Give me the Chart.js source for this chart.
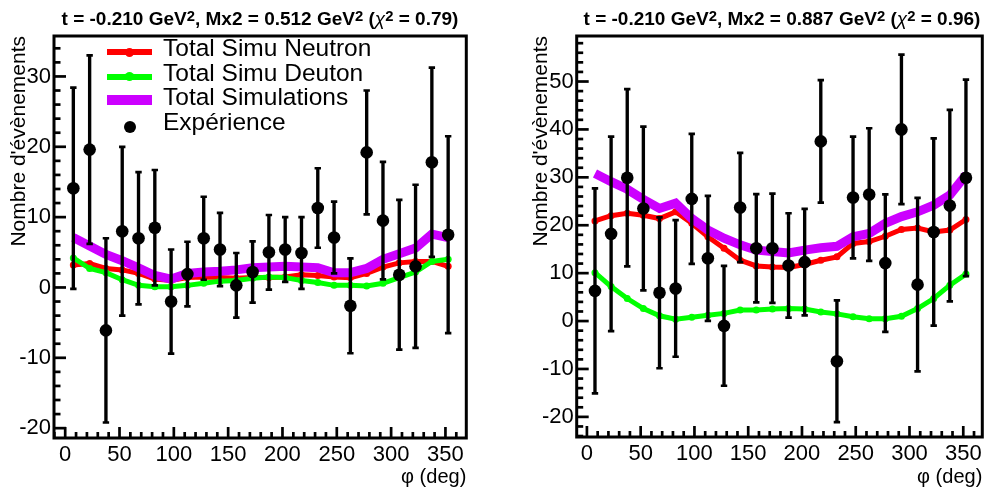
<!DOCTYPE html>
<html>
<head>
<meta charset="utf-8">
<script src="https://cdn.jsdelivr.net/npm/chart.js@4.4.1/dist/chart.umd.min.js"></script>
<style>
  body { margin: 0; background: #fff; width: 989px; height: 492px; overflow: hidden; position: relative;
         font-family: "Liberation Sans", Arial, sans-serif; color: #000; }
  .panel { position: absolute; top: 0; }
  .ttl { position: absolute; top: 8.5px; font-weight: bold; font-size: 19px; line-height: 20px;
         text-align: center; white-space: nowrap; }
  .ttl sup { font-size: 0.78em; position: relative; top: -0.22em; vertical-align: baseline; line-height: 0; }
  .ttl .chi { font-weight: normal; font-style: italic; }
  .row { position: absolute; left: 107px; height: 24.5px; line-height: 24.5px; font-size: 24.5px;
         padding-left: 56px; white-space: nowrap; }
  .sym { position: absolute; left: 0; width: 45px; }
  .dot { position: absolute; border-radius: 50%; }
</style>
</head>
<body>
<div class="panel" style="left:0;width:494px;height:492px"><canvas id="chartL" width="494" height="492"></canvas></div>
<div class="panel" style="left:494px;width:495px;height:492px"><canvas id="chartR" width="495" height="492"></canvas></div>

<div class="ttl" style="left:54px;width:412px">t = -0.210 GeV<sup>2</sup>, Mx2 = 0.512 GeV<sup>2</sup> (<span class="chi">χ</span><sup>2</sup> = 0.79)</div>
<div class="ttl" style="left:577px;width:410px">t = -0.210 GeV<sup>2</sup>, Mx2 = 0.887 GeV<sup>2</sup> (<span class="chi">χ</span><sup>2</sup> = 0.96)</div>

<!-- legende du panneau de gauche -->
<div class="row" style="top:36px"><span class="sym" style="top:13px;height:6px;background:#ff0000"></span><span class="dot" style="left:18px;top:11.5px;width:9px;height:9px;background:#ff0000"></span>Total Simu Neutron</div>
<div class="row" style="top:60.5px"><span class="sym" style="top:13px;height:6px;background:#00ff00"></span><span class="dot" style="left:18px;top:11.5px;width:9px;height:9px;background:#00ff00"></span>Total Simu Deuton</div>
<div class="row" style="top:85px"><span class="sym" style="top:10px;height:10px;background:#cc00ff"></span>Total Simulations</div>
<div class="row" style="top:109.5px"><span class="dot" style="left:17px;top:11px;width:12px;height:12px;background:#000"></span>Expérience</div>

<script>
// bins en phi (deg)
const phi = [7.5, 22.5, 37.5, 52.5, 67.5, 82.5, 97.5, 112.5, 127.5, 142.5, 157.5, 172.5,
             187.5, 202.5, 217.5, 232.5, 247.5, 262.5, 277.5, 292.5, 307.5, 322.5, 337.5, 352.5];
const xTicks = [0, 50, 100, 150, 200, 250, 300, 350];
const yTicksL = [-20, -10, 0, 10, 20, 30];
const yTicksR = [-20, -10, 0, 10, 20, 30, 40, 50];

// Mx2 = 0.512
const expL = [14.1, 19.6, -6.1, 8.0, 7.0, 8.5, -2.0, 1.9, 7.0, 5.4, 0.3, 2.2,
              5.0, 5.4, 4.9, 11.3, 7.1, -2.6, 19.2, 9.5, 1.8, 3.0, 17.8, 7.5];
const errL = [14.3, 13.4, 13.1, 12.0, 9.4, 8.2, 7.4, 4.6, 5.9, 5.2, 4.6, 4.35,
              5.3, 4.6, 5.1, 5.65, 5.1, 6.75, 8.8, 8.35, 10.65, 11.6, 13.45, 14.0];
const neutronL = [3.2, 3.4, 2.7, 2.5, 2.0, 1.2, 1.0, 1.4, 1.5, 1.4, 1.3, 1.4,
                  1.4, 1.5, 1.8, 1.7, 1.5, 1.4, 2.0, 2.9, 3.5, 3.7, 3.7, 3.0];
const deutonL = [4.2, 2.7, 2.1, 1.1, 0.3, 0.1, 0.1, 0.3, 0.6, 0.9, 1.0, 1.3,
                 1.5, 1.4, 1.0, 0.7, 0.3, 0.3, 0.2, 0.6, 1.4, 2.2, 3.7, 4.0];
const totalL = [7.1, 5.9, 4.7, 3.8, 2.8, 1.7, 1.2, 2.0, 2.2, 2.3, 2.5, 2.8,
                2.9, 3.0, 2.9, 2.8, 2.1, 2.1, 2.7, 4.0, 4.8, 5.6, 7.6, 7.1];

// Mx2 = 0.887
const expR = [6.3, 18.2, 29.9, 23.5, 5.9, 6.8, 25.5, 13.1, -1.0, 23.7, 15.2, 15.2,
              11.6, 12.3, 37.5, -8.4, 25.8, 26.4, 12.1, 40.0, 7.6, 18.6, 24.1, 29.9];
const errR = [21.4, 20.3, 18.5, 17.1, 15.75, 14.25, 13.55, 13.05, 12.5, 11.4, 11.3, 11.4,
              10.9, 11.1, 12.8, 12.7, 12.7, 13.85, 14.35, 15.6, 18.1, 19.55, 20.0, 20.5];
const neutronR = [20.9, 22.0, 22.5, 22.1, 21.4, 22.8, 20.4, 17.6, 15.2, 12.7, 11.5, 11.3,
                  11.2, 11.8, 12.7, 13.4, 16.2, 16.6, 17.7, 19.1, 19.4, 18.6, 19.0, 21.2];
const deutonR = [10.1, 7.2, 4.7, 2.6, 1.1, 0.4, 0.8, 1.2, 1.6, 2.3, 2.3, 2.5,
                 2.6, 2.5, 1.9, 1.5, 0.9, 0.5, 0.5, 1.0, 2.6, 4.7, 7.5, 9.8];
const totalR = [30.8, 29.1, 27.5, 25.4, 23.5, 24.6, 21.4, 19.0, 17.3, 15.9, 14.8, 14.5,
                14.2, 14.8, 15.3, 15.6, 17.6, 18.3, 20.4, 21.8, 22.8, 24.2, 26.3, 30.5];

Chart.defaults.font.family = "'Liberation Sans', Arial, sans-serif";
Chart.defaults.color = '#000';

// cadre + ticks vers l'interieur (style ROOT)
const rootFrame = {
    id: 'rootFrame',
    afterDraw(chart) {
        const ctx = chart.ctx;
        const a = chart.chartArea;
        const x = chart.scales.x, y = chart.scales.y;
        ctx.save();
        ctx.strokeStyle = '#000';
        ctx.lineWidth = 2.7;
        for (let v = Math.ceil(x.min / 10) * 10; v <= x.max; v += 10) {
            const px = x.getPixelForValue(v);
            const len = (v % 50 === 0) ? 11 : 6;
            ctx.beginPath();
            ctx.moveTo(px, a.bottom);
            ctx.lineTo(px, a.bottom - len);
            ctx.stroke();
        }
        for (let v = Math.ceil(y.min / 2) * 2; v <= y.max; v += 2) {
            const py = y.getPixelForValue(v);
            const len = (v % 10 === 0) ? 12 : 6.5;
            ctx.beginPath();
            ctx.moveTo(a.left, py);
            ctx.lineTo(a.left + len, py);
            ctx.stroke();
        }
        ctx.lineWidth = 3;
        ctx.strokeRect(a.left, a.top, a.right - a.left, a.bottom - a.top);
        ctx.restore();
    }
};

function makeChart(id, c) {
    let pts = function(ys) {
        return phi.map((x, i) => ({ x: x, y: ys[i] }));
    };
    let bars = phi.map((x, i) => ({ x: x, y: [c.exp[i] - c.err[i], c.exp[i] + c.err[i]] }));
    let caps = [];
    phi.forEach(function(x, i) {
        caps.push({ x: x, y: c.exp[i] - c.err[i] });
        caps.push({ x: x, y: c.exp[i] + c.err[i] });
    });

    let ctx = document.getElementById(id).getContext('2d');
    return new Chart(ctx, {
        type: 'scatter',
        data: {
            datasets: [
                { type: 'scatter', label: 'Expérience', data: pts(c.exp), order: 0,
                  pointRadius: 6.3, pointBackgroundColor: '#000', pointBorderWidth: 0 },
                { type: 'scatter', label: 'caps', data: caps, order: 1,
                  pointStyle: 'line', pointRadius: 3.2, pointBorderColor: '#000', pointBorderWidth: 2.7 },
                { type: 'bar', label: 'erreurs', data: bars, order: 2,
                  backgroundColor: '#000', barThickness: 2.7, borderWidth: 0, grouped: false },
                { type: 'line', label: 'Total Simulations', data: pts(c.total), order: 3,
                  borderColor: '#cc00ff', borderWidth: 9, pointRadius: 0, tension: 0, fill: false },
                { type: 'line', label: 'Total Simu Deuton', data: pts(c.deuton), order: 4,
                  borderColor: '#00ff00', borderWidth: 5, pointRadius: 3.5, pointBackgroundColor: '#00ff00',
                  pointBorderWidth: 0, tension: 0, fill: false },
                { type: 'line', label: 'Total Simu Neutron', data: pts(c.neutron), order: 5,
                  borderColor: '#ff0000', borderWidth: 5, pointRadius: 3.5, pointBackgroundColor: '#ff0000',
                  pointBorderWidth: 0, tension: 0, fill: false }
            ]
        },
        options: {
            responsive: false,
            animation: false,
            devicePixelRatio: 1,
            layout: { padding: c.pad },
            plugins: { legend: { display: false }, tooltip: { enabled: false } },
            scales: {
                x: {
                    type: 'linear', min: c.xmin, max: c.xmax, offset: false,
                    grid: { display: false, drawTicks: false, offset: false },
                    border: { display: false },
                    afterBuildTicks: function(s) { s.ticks = xTicks.map(v => ({ value: v })); },
                    ticks: { font: { size: 22 }, padding: 4, maxRotation: 0, autoSkip: false },
                    title: { display: true, text: 'φ (deg)', align: 'end', font: { size: 20 },
                             padding: { top: 0, bottom: 3 } },
                    afterFit: function(s) { s.height = c.xh; }
                },
                y: {
                    type: 'linear', min: c.ymin, max: c.ymax, beginAtZero: false,
                    grid: { display: false, drawTicks: false },
                    border: { display: false },
                    afterBuildTicks: function(s) { s.ticks = c.yTicks.map(v => ({ value: v })); },
                    ticks: { font: { size: 22 }, padding: 3, autoSkip: false },
                    title: { display: true, text: "Nombre d'évènements", align: 'end', font: { size: 21 },
                             padding: { top: 6.5, bottom: 0 } },
                    afterFit: function(s) { s.width = c.yw; }
                }
            }
        },
        plugins: [rootFrame]
    });
}

makeChart('chartL', {
    exp: expL, err: errL, neutron: neutronL, deuton: deutonL, total: totalL,
    xmin: -10.3, xmax: 369.2, ymin: -21.4, ymax: 35.75, yTicks: yTicksL,
    pad: { top: 36, right: 27.7, left: 0, bottom: 0 }, yw: 54, xh: 54
});

makeChart('chartR', {
    exp: expR, err: errR, neutron: neutronR, deuton: deutonR, total: totalR,
    xmin: -9.5, xmax: 367.7, ymin: -24.2, ymax: 59.5, yTicks: yTicksR,
    pad: { top: 36, right: 1.7, left: 28, bottom: 0 }, yw: 54.7, xh: 55
});
</script>
</body>
</html>
